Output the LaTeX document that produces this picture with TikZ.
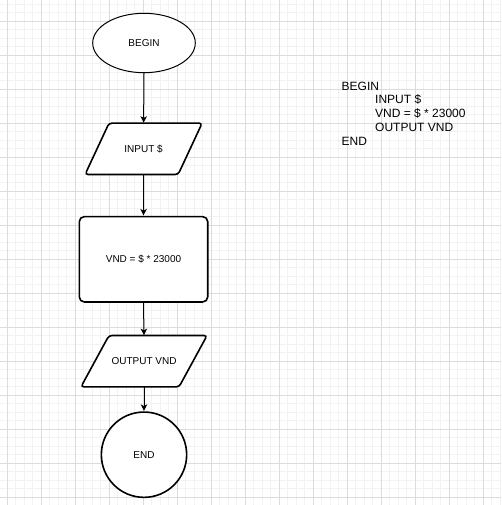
\documentclass[tikz,border=0pt]{standalone}
\usepackage{fontspec}
\setmainfont{Liberation Sans}
\usetikzlibrary{shapes.geometric,arrows.meta}
\pgfdeclarelayer{gridlayer}
\pgfdeclarelayer{background}
\pgfsetlayers{gridlayer,background,main}
\definecolor{gridmajor}{RGB}{220,220,220}
\definecolor{gridminor}{RGB}{242,242,242}
\tikzset{
  shapeline/.style={draw=black, line width=1.6pt, fill=white},
  flowtext/.style={font=\fontsize{10}{12}\selectfont, text=black},
  beginnode/.style={ellipse, draw=black, line width=1pt, fill=white, inner sep=0pt,
    minimum width=102.6pt, minimum height=59.4pt, flowtext},
  iobox/.style={rectangle, inner sep=0pt, minimum height=51pt, flowtext},
  ioshape/.style={shapeline, rounded corners=3pt},
  procbox/.style={rectangle, shapeline, rounded corners=5pt, inner sep=0pt,
    minimum width=128.4pt, minimum height=85.3pt, flowtext},
  endnode/.style={circle, shapeline, inner sep=0pt, minimum size=85.3pt, flowtext},
  flowarrow/.style={draw=black, line width=1pt,
    -{Stealth[length=6.5pt, width=6.5pt, inset=1.8pt]}, shorten >=0.4pt},
  codetext/.style={font=\fontsize{12}{13.8}\selectfont, text=black, align=left,
    anchor=north west, inner sep=0pt}
}
\begin{document}
\begin{tikzpicture}[x=1pt, y=-1pt]
  \useasboundingbox (0,0) rectangle (501,505);
  % grid
  \begin{pgfonlayer}{gridlayer}
    \fill[white] (0,0) rectangle (501,505);
    \foreach \k in {0,...,59} {
      \draw[gridminor, line width=0.8pt] ({-1.2+8.5*\k},0) -- ({-1.2+8.5*\k},505);
      \draw[gridminor, line width=0.8pt] (0,{4.3+8.5*\k}) -- (501,{4.3+8.5*\k});
    }
    \foreach \k in {0,...,14} {
      \draw[gridmajor, line width=0.8pt] ({7.3+34*\k},0) -- ({7.3+34*\k},505);
      \draw[gridmajor, line width=0.8pt] (0,{21.3+34*\k}) -- (501,{21.3+34*\k});
    }
  \end{pgfonlayer}
  % flowchart
  \node[beginnode] (begin) at (144,43) {BEGIN};
  \node[iobox, minimum width=116.7pt] (input) at (143.6,148.8) {INPUT \$};
  \node[procbox] (calc) at (143.5,259.3) {VND = \$ * 23000};
  \node[iobox, minimum width=125.7pt] (output) at (144,361.2) {OUTPUT VND};
  \node[endnode] (end) at (144,454.7) {END};
  \begin{pgfonlayer}{background}
    \draw[ioshape] ([xshift=24pt]input.north west) -- (input.north east)
      -- ([xshift=-24pt]input.south east) -- (input.south west) -- cycle;
    \draw[ioshape] ([xshift=28pt]output.north west) -- (output.north east)
      -- ([xshift=-28pt]output.south east) -- (output.south west) -- cycle;
  \end{pgfonlayer}
  \draw[flowarrow] (begin.south) -- (input.north);
  \draw[flowarrow] (input.south) -- (calc.north);
  \draw[flowarrow] (calc.south) -- (output.north);
  \draw[flowarrow] (output.south) -- (end.north);
  % pseudocode
  \node[codetext] (code) at (341.5,81.5) {BEGIN\\
    \hspace*{33.5pt}INPUT \$\\
    \hspace*{33.5pt}VND = \$ * 23000\\
    \hspace*{33.5pt}OUTPUT VND\\
    END};
\end{tikzpicture}
\end{document}
